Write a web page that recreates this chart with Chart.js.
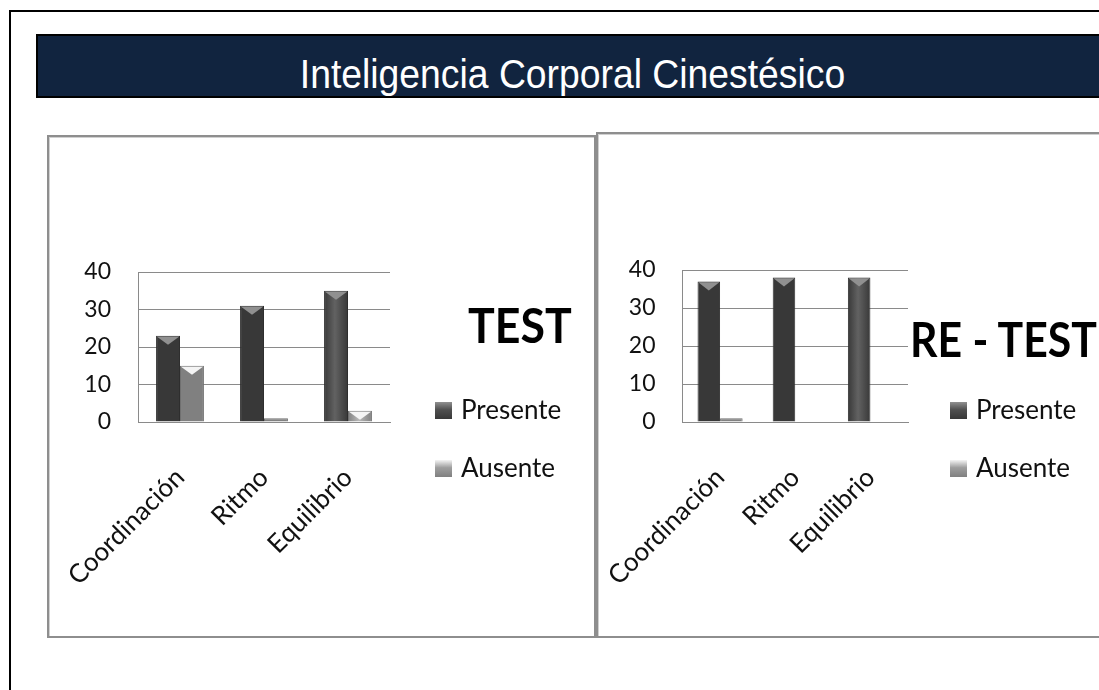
<!DOCTYPE html>
<html>
<head>
<meta charset="utf-8">
<script src="https://cdn.jsdelivr.net/npm/chart.js@4.4.1/dist/chart.umd.min.js"></script>
<style>
  html, body { margin:0; padding:0; background:#fff; }
  body { width:1099px; height:690px; position:relative; overflow:hidden; font-family: Lato, "Open Sans", sans-serif; }
  #outer { position:absolute; left:9px; top:10px; width:1200px; height:800px; border:2px solid #000; box-sizing:border-box; }
  #banner { position:absolute; left:36px; top:34px; width:1100px; height:64px; background:#11243f; border:2px solid #000; box-sizing:border-box; }
  #bannerText { position:absolute; left:36px; top:54px; width:1073px; height:41px; line-height:41px; text-align:center; color:#fff;
    font-family:"Liberation Sans", Arial, sans-serif; font-size:41px; transform:scaleX(0.91); transform-origin:center; white-space:nowrap; }
  .panel { position:absolute; box-sizing:border-box; border:2px solid #8e8e8e; box-shadow: inset 1px 1px 0 #d0d0d0; }
  #p1 { left:47px; top:135px; width:549px; height:503px; }
  #p2 { left:596px; top:132px; width:600px; height:506px; }
  canvas { position:absolute; }
  .big { position:absolute; font-family:Lato, sans-serif; font-weight:bold; font-size:47px; color:#000; line-height:1; white-space:nowrap; transform-origin:left top; }
  .leg { position:absolute; font-family:Lato, sans-serif; font-size:26px; color:#111; white-space:nowrap; line-height:1; }
  .leg span.sw { display:inline-block; width:17px; height:17px; margin-right:9px; vertical-align:0px; }
</style>
</head>
<body>
<div id="outer"></div>
<div id="banner"></div>
<div id="bannerText">Inteligencia Corporal Cinestésico</div>
<div class="panel" id="p1"></div>
<div class="panel" id="p2"></div>
<div class="wrap" id="w1" style="position:absolute;left:49px;top:138px;width:544px;height:497px;"><canvas id="c1" width="544" height="497"></canvas></div>
<div class="wrap" id="w2" style="position:absolute;left:599px;top:135px;width:500px;height:500px;"><canvas id="c2" width="500" height="500"></canvas></div>
<div class="big" id="t1" style="left:468px;top:302px;transform:scaleX(0.95);">TEST</div>
<div class="big" id="t2" style="left:910px;top:316px;transform:scaleX(0.91);">RE - TEST</div>
<div id="leg1"></div>
<div id="leg2"></div>
<script>
const categories = ["Coordinación", "Ritmo", "Equilibrio"];
const seriesNames = ["Presente", "Ausente"];
const testPresente = [23, 31, 35];
const testAusente = [15, 1, 3];
const retestPresente = [37, 38, 38];
const retestAusente = [1, 0, 0];
const yTicks = [0, 10, 20, 30, 40];
const chartTitles = ["TEST", "RE - TEST"];

const palette = {
  Presente: { edge:"#383838", mid:"#626262", cap:"#909090", swatch:"#505050" },
  Ausente:  { edge:"#808080", mid:"#b8b8b8", cap:"#f4f4f4", swatch:"#9e9e9e" }
};

const barStyle = {
  id: 'barStyle',
  beforeDatasetsDraw(chart) {
    const ctx = chart.ctx;
    chart.data.datasets.forEach((ds, di) => {
      const p = palette[ds.label];
      chart.getDatasetMeta(di).data.forEach(el => {
        const l = el.x - el.width / 2, r = el.x + el.width / 2;
        const g = ctx.createLinearGradient(l, 0, r, 0);
        g.addColorStop(0, p.edge);
        g.addColorStop(0.45, p.mid);
        g.addColorStop(1, p.edge);
        el.options.backgroundColor = g;
      });
    });
  },
  afterDatasetsDraw(chart) {
    const ctx = chart.ctx;
    chart.data.datasets.forEach((ds, di) => {
      const p = palette[ds.label];
      chart.getDatasetMeta(di).data.forEach(el => {
        const h = el.base - el.y;
        if (h < 4) return;
        const l = el.x - el.width / 2 + 1, r = el.x + el.width / 2 - 1;
        const th = Math.min(9, h - 1);
        ctx.save();
        ctx.fillStyle = p.cap;
        ctx.beginPath();
        ctx.moveTo(l, el.y + 1);
        ctx.lineTo(r, el.y + 1);
        ctx.lineTo(el.x, el.y + th);
        ctx.closePath();
        ctx.fill();
        ctx.restore();
      });
    });
  }
};

function makeChart(id, pres, aus, pad, yW, xH, catPct) {
  return new Chart(document.getElementById(id), {
    type: 'bar',
    data: {
      labels: categories,
      datasets: [
        { label: seriesNames[0], data: pres, borderColor:"#2e2e2e", borderWidth:1, borderSkipped:'bottom' },
        { label: seriesNames[1], data: aus, borderColor:"#707070", borderWidth:1, borderSkipped:'bottom' }
      ]
    },
    options: {
      responsive: false,
      animation: false,
      devicePixelRatio: 1,
      layout: { padding: pad },
      plugins: { legend: { display:false }, tooltip: { enabled:false }, title: { display:false } },
      datasets: { bar: { barPercentage: 1, categoryPercentage: catPct } },
      scales: {
        x: {
          grid: { display:false, drawTicks:false },
          border: { display:true, color:"#8a8a8a", width:1 },
          ticks: { color:"#111", font:{ family:"Lato", size:26 }, minRotation:45, maxRotation:45, padding:40, autoSkip:false },
          afterFit(s) { s.height = xH; s.paddingLeft = 0; s.paddingRight = 0; }
        },
        y: {
          min: 0, max: 40,
          afterBuildTicks(s) { s.ticks = yTicks.map(v => ({ value: v })); },
          grid: { color:"#8a8a8a", lineWidth:1, drawTicks:false },
          border: { display:true, color:"#8a8a8a", width:1 },
          ticks: { color:"#111", font:{ family:"Lato", size:23 }, padding:27 },
          afterFit(s) { s.width = yW; s.paddingTop = 0; s.paddingBottom = 0; }
        }
      }
    },
    plugins: [barStyle]
  });
}

makeChart('c1', testPresente, testAusente, { left:0, top:134, right:203, bottom:0 }, 89, 213, 0.57);
makeChart('c2', retestPresente, retestAusente, { left:0, top:135, right:191, bottom:0 }, 83.5, 213, 0.6);

function legend(id, left, top) {
  const box = document.getElementById(id);
  seriesNames.forEach((n, i) => {
    const d = document.createElement('div');
    d.className = 'leg';
    d.style.left = left + 'px';
    d.style.top = (top + i * 58) + 'px';
    d.innerHTML = '<span class="sw" style="background:linear-gradient(180deg,' + palette[n].cap + ' 0%,' + palette[n].swatch + ' 45%,' + palette[n].edge + ' 100%)"></span>' + n;
    box.appendChild(d);
  });
}
legend('leg1', 435, 396);
legend('leg2', 950, 396);
document.getElementById('t1').textContent = chartTitles[0];
document.getElementById('t2').textContent = chartTitles[1];
</script>
</body>
</html>
